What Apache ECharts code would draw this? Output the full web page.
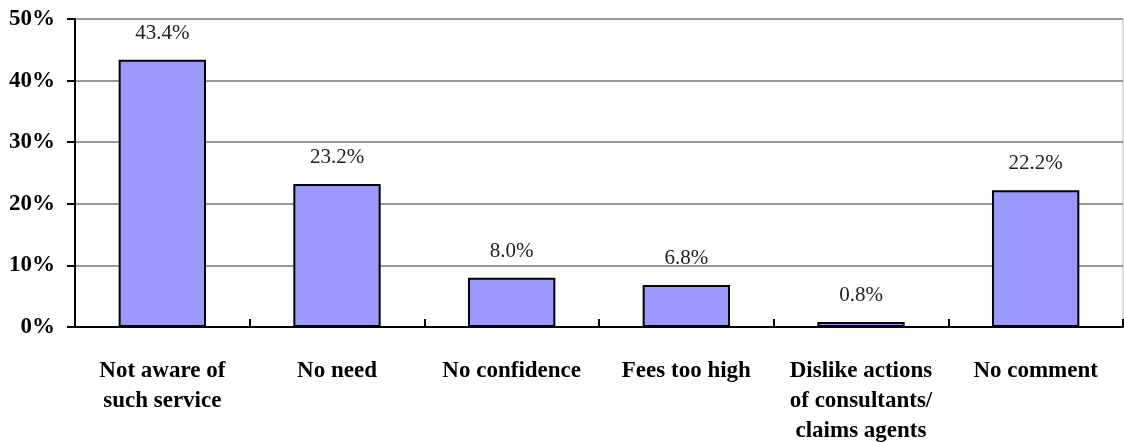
<!DOCTYPE html>
<html><head><meta charset="utf-8">
<script src="https://cdn.jsdelivr.net/npm/echarts@6/dist/echarts.min.js"></script>
<style>html,body{margin:0;padding:0;background:#fff}#c{width:1124px;height:442px}</style>
</head><body><div id="c"></div>
<script>
const categories = ["Not aware of\nsuch service","No need","No confidence","Fees too high","Dislike actions\nof consultants/\nclaims agents","No comment"];
const values = [43.4, 23.2, 8.0, 6.8, 0.8, 22.2];
const yTicks = [0, 10, 20, 30, 40, 50];
const chart = echarts.init(document.getElementById('c'));
chart.setOption({
  animation:false,
  grid:{left:75,right:1,top:19,bottom:115,outerBoundsMode:'none',containLabel:false,show:true,borderColor:'#bbb',borderWidth:1,backgroundColor:'transparent'},
  xAxis:{type:'category',data:categories,
    axisLine:{lineStyle:{color:'#000',width:2}},
    axisTick:{show:true,inside:true,length:8,lineStyle:{color:'#000',width:2}},
    axisLabel:{margin:29,color:'#000',fontFamily:'Liberation Serif',fontWeight:'bold',fontSize:23,lineHeight:30,interval:0}},
  yAxis:{type:'value',min:yTicks[0],max:yTicks[yTicks.length-1],interval:10,
    axisLine:{show:true,lineStyle:{color:'#000',width:2}},
    axisTick:{show:true,length:8,lineStyle:{color:'#000',width:2}},
    splitLine:{lineStyle:{color:'#999',width:2}},
    axisLabel:{margin:20,color:'#000',fontFamily:'Liberation Serif',fontWeight:'bold',fontSize:23,formatter:v=>v+'%'}},
  series:[{type:'bar',data:values,barCategoryGap:'50%',
    itemStyle:{color:'#9999FF',borderColor:'#000',borderWidth:2},
    label:{show:true,position:'top',distance:16,color:'#222',fontFamily:'Liberation Serif',fontSize:21,formatter:p=>p.value.toFixed(1)+'%'}}]
});
</script></body></html>
